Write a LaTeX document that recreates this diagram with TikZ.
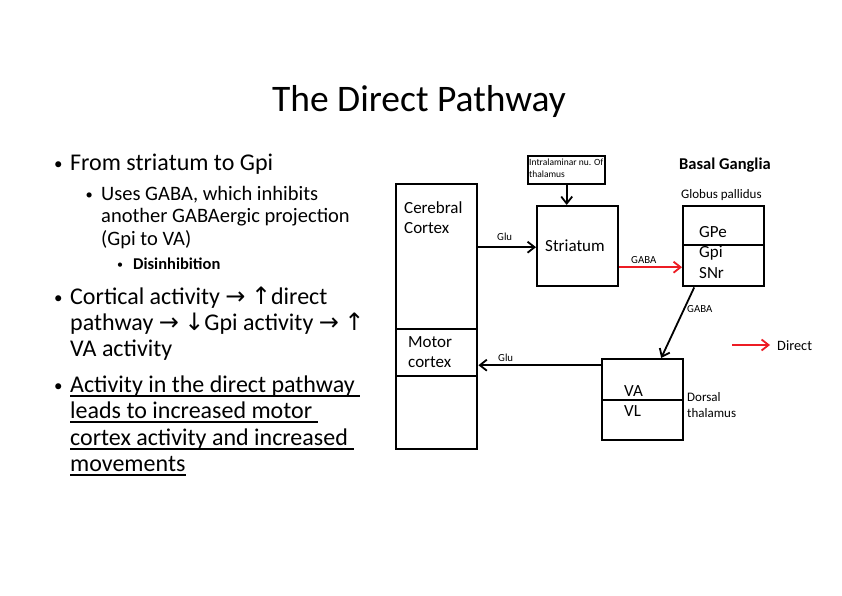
\documentclass[tikz,border=0pt]{standalone}
\usepackage{fontspec}
\setmainfont{Carlito}
\newfontfamily\arrfont{DejaVu Sans}
\usetikzlibrary{arrows.meta}
\definecolor{arrred}{RGB}{237,28,36}
\newcommand{\ra}{{\arrfont\char"2192}}
\newcommand{\ua}{{\arrfont\char"2191}}
\newcommand{\da}{{\arrfont\char"2193}}
\begin{document}
\begin{tikzpicture}[x=1pt,y=-1pt,
  box/.style={draw, line width=2.4pt, inner sep=0pt, anchor=north west},
  txt/.style={inner sep=0pt, anchor=base west},
  lone/.style={txt, font=\fontsize{24}{26}\selectfont},
  ltwo/.style={txt, font=\fontsize{20.5}{22}\selectfont},
  lthree/.style={txt, font=\fontsize{16.5}{18}\selectfont\bfseries},
  bone/.style={txt, font=\fontsize{17}{18}\selectfont},
  btwo/.style={txt, font=\fontsize{14.5}{16}\selectfont},
  bthree/.style={txt, font=\fontsize{12}{14}\selectfont},
  dtxt/.style={txt, font=\fontsize{17}{19}\selectfont},
  small/.style={txt, font=\fontsize{10.8}{12}\selectfont},
  divider/.style={line width=1.5pt},
  uline/.style={line width=2.4pt},
  conn/.style={line width=1.8pt, -{Straight Barb[length=7pt,width=11pt,line width=1.8pt]}},
  redconn/.style={conn, draw=arrred}
]
\useasboundingbox[fill=white] (0,0) rectangle (842,596);

% title
\node[inner sep=0pt, anchor=base, font=\fontsize{37.5}{40}\selectfont] (title) at (419,112) {The Direct Pathway};

% left text
\node[bone] (b1) at (54,170) {•};
\node[lone] (t1) at (70,171) {From striatum to Gpi};
\node[btwo] (b2) at (85.5,199) {•};
\node[ltwo] (t2a) at (101,200) {Uses GABA, which inhibits};
\node[ltwo] (t2b) at (101,222) {another GABAergic projection};
\node[ltwo] (t2c) at (101,245) {(Gpi to VA)};
\node[bthree] (b3) at (117,268.5) {•};
\node[lthree] (t3) at (133,269) {Disinhibition};
\node[bone] (b4) at (54,303) {•};
\node[lone] (t4a) at (70,304) {Cortical activity \ra{} \ua{}direct};
\node[lone] (t4b) at (70,330) {pathway \ra{} \da{}Gpi activity \ra{} \ua};
\node[lone] (t4c) at (70,356) {VA activity};
\node[bone] (b5) at (54,391) {•};
\node[lone] (u1) at (70,392) {Activity in the direct pathway\kern0.23em};
\node[lone] (u2) at (70,418) {leads to increased motor\kern0.23em};
\node[lone] (u3) at (70,445) {cortex activity and increased\kern0.23em};
\node[lone] (u4) at (70,471) {movements};
\foreach \u in {u1,u2,u3,u4}
  \draw[uline] ([yshift=-4pt]\u.base west) -- ([yshift=-4pt]\u.base east);

% boxes
\node[box, minimum width=81pt, minimum height=265pt] (cc) at (395,183) {};
\draw[divider] (395,329) -- (476,329);
\draw[divider] (395,376) -- (476,376);
\node[dtxt] (cctxt1) at (404,213) {Cerebral};
\node[dtxt] (cctxt2) at (404,233) {Cortex};
\node[dtxt] (mctxt1) at (408,347) {Motor};
\node[dtxt] (mctxt2) at (408,367) {cortex};

\node[box, minimum width=77pt, minimum height=28pt] (intra) at (527,155) {};
\node[txt, font=\fontsize{9.5}{11}\selectfont] (intratxt1) at (529,165) {Intralaminar nu. Of};
\node[txt, font=\fontsize{9.5}{11}\selectfont] (intratxt2) at (529,177) {thalamus};

\node[box, minimum width=81pt, minimum height=80pt] (str) at (536,205) {};
\node[dtxt] (strtxt) at (545,251) {Striatum};

\node[txt, font=\fontsize{16.5}{18}\selectfont\bfseries] (bg) at (679,170) {Basal Ganglia};
\node[txt, font=\fontsize{13}{15}\selectfont] (gplab) at (681,198) {Globus pallidus};
\node[box, minimum width=81pt, minimum height=80pt] (gp) at (682,205) {};
\draw[divider] (682,245) -- (763,245);
\node[dtxt] (gpe) at (699,237) {GPe};
\node[dtxt] (gpi) at (699,257) {Gpi};
\node[dtxt] (snr) at (699,278) {SNr};

\node[box, minimum width=81pt, minimum height=81pt] (va) at (601,358) {};
\draw[divider] (601,400) -- (682,400);
\node[dtxt] (vatxt) at (624,396) {VA};
\node[dtxt] (vltxt) at (624,416) {VL};
\node[txt, font=\fontsize{13}{15}\selectfont] (dt1) at (687,401) {Dorsal};
\node[txt, font=\fontsize{13}{15}\selectfont] (dt2) at (687,417) {thalamus};

% connectors
\draw[conn] (intra.south) -- (intra.south |- str.north);
\coordinate (g1) at ([yshift=-1pt]cc.east |- str.west);
\draw[conn] (g1) -- (g1 -| str.west);
\node[small] (glu1) at (497,240) {Glu};

\coordinate (r1) at ([yshift=-21pt]str.east);
\draw[redconn] (r1) -- (r1 -| gp.west);
\node[small] (gaba1) at (631,263) {GABA};

\coordinate (d1) at ([xshift=-29.5pt]gp.south);
\coordinate (d2) at ([xshift=18.5pt]va.north);
\draw[conn] (d1) -- (d2);
\node[small] (gaba2) at (687,312) {GABA};

\coordinate (m1) at ([yshift=34.5pt]va.west);
\draw[conn] (m1) -- (m1 -| cc.east);
\node[small] (glu2) at (498,361) {Glu};

% legend
\node[txt, font=\fontsize{14.3}{16}\selectfont] (legtxt) at (777,350) {Direct};
\coordinate (l1) at (732,345);
\draw[redconn] (l1) -- ([xshift=-7pt]l1 -| legtxt.west);
\end{tikzpicture}
\end{document}
